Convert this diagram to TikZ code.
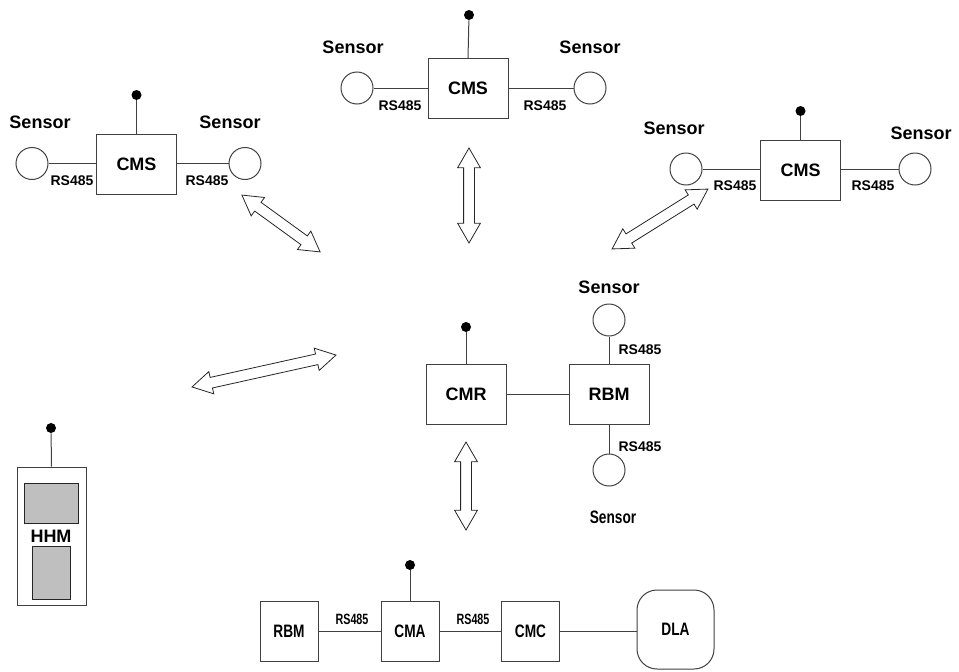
\documentclass[tikz,border=0pt]{standalone}
\usepackage{fontspec}
\setmainfont{Liberation Sans}
\usetikzlibrary{shapes.arrows}
\tikzset{
  lbl/.style={font=\fontsize{13.5}{16}\selectfont\bfseries, inner sep=0},
  rs/.style={font=\fontsize{10.5}{12}\selectfont\bfseries, inner sep=0},
  rsb/.style={font=\fontsize{11.2}{13}\selectfont\bfseries, inner sep=0},
  box/.style={draw=black!75, line width=0.75pt, fill=white, minimum width=60pt, minimum height=45pt, inner sep=0, font=\fontsize{13.5}{16}\selectfont\bfseries},
  sbox/.style={box, minimum width=43.5pt},
  sens/.style={circle, draw=black!75, line width=0.75pt, minimum size=24pt, inner sep=0},
  ant/.style={circle, fill=black, minimum size=7.5pt, inner sep=0},
  wire/.style={draw=black!75, line width=0.75pt},
  darr/.style={double arrow, draw=black!85, line width=0.6pt, minimum width=16.5pt, double arrow head extend=4.5pt, double arrow tip angle=60, inner sep=0, fill=white},
  gbox/.style={draw=black!85, line width=0.75pt, fill=black!25, inner sep=0}
}
\newcommand{\cz}[1]{\scalebox{0.76}[1]{#1}}
\newcommand{\shaft}{\rule{0pt}{7.5pt}}
\begin{document}
\begin{tikzpicture}[x=0.75pt,y=-0.75pt]
\useasboundingbox (0,0) rectangle (959,671);
% ---------- left CMS ----------
\node[box] (cms1) at (136.5,164.5) {CMS};
\node[sens] (s1a) at (32,163.5) {};
\node[sens] (s1b) at (245,163.5) {};
\node[ant] (d1) at (136.5,95) {};
\draw[wire] (s1a) -- (cms1.west |- s1a);
\draw[wire] (cms1.east |- s1b) -- (s1b);
\draw[wire] (cms1.north) -- (d1);
\node[lbl] (t1a) at (40,122) {Sensor};
\node[lbl] (t1b) at (230,122) {Sensor};
\node[rs] (r1a) at (72,181) {RS485};
\node[rs] (r1b) at (207,181) {RS485};
% ---------- top CMS ----------
\node[box] (cms2) at (468,88.5) {CMS};
\node[sens] (s2a) at (357,88) {};
\node[sens] (s2b) at (590,88) {};
\node[ant] (d2) at (469,15) {};
\draw[wire] (s2a) -- (cms2.west |- s2a);
\draw[wire] (cms2.east |- s2b) -- (s2b);
\draw[wire] (cms2.north) -- (d2);
\node[lbl] (t2a) at (353,47) {Sensor};
\node[lbl] (t2b) at (590,47) {Sensor};
\node[rs] (r2a) at (400,106) {RS485};
\node[rs] (r2b) at (545,106) {RS485};
% ---------- right CMS ----------
\node[box] (cms3) at (800.5,170) {CMS};
\node[sens] (s3a) at (686,169) {};
\node[sens] (s3b) at (915,169) {};
\node[ant] (d3) at (800.5,111) {};
\draw[wire] (s3a) -- (cms3.west |- s3a);
\draw[wire] (cms3.east |- s3b) -- (s3b);
\draw[wire] (cms3.north) -- (d3);
\node[lbl] (t3a) at (674,128) {Sensor};
\node[lbl] (t3b) at (921,133) {Sensor};
\node[rs] (r3a) at (735,186) {RS485};
\node[rs] (r3b) at (873,186) {RS485};
% ---------- centre CMR / RBM ----------
\node[box] (cmr) at (466,394.5) {CMR};
\node[box] (rbm1) at (609,394.5) {RBM};
\node[ant] (d4) at (466,327) {};
\node[sens] (s4a) at (609,320) {};
\node[sens] (s4b) at (609,470) {};
\draw[wire] (cmr) -- (rbm1);
\draw[wire] (cmr.north) -- (d4);
\draw[wire] (s4a) -- (rbm1.north);
\draw[wire] (rbm1.south) -- (s4b);
\node[lbl] (t4a) at (609,287) {Sensor};
\node[lbl] (t4b) at (613,517) {\cz{Sensor}};
\node[rs] (r4a) at (640,350) {RS485};
\node[rs] (r4b) at (640,447) {RS485};
% ---------- HHM ----------
\node[draw=black!75, line width=0.75pt, fill=white, minimum width=51.75pt, minimum height=103.5pt, inner sep=0] (hhm) at (51.5,536) {};
\node[gbox, minimum width=40.5pt, minimum height=30pt] (g1) at (51,503) {};
\node[gbox, minimum width=28.5pt, minimum height=39.75pt] (g2) at (51,572.5) {};
\node[lbl] (thhm) at (51,536) {HHM};
\node[ant] (d5) at (51,428) {};
\draw[wire] (hhm.north) -- (d5);
% ---------- bottom row ----------
\node[sbox] (rbm2) at (289,631) {\cz{RBM}};
\node[sbox] (cma) at (410,631) {\cz{CMA}};
\node[sbox] (cmc) at (530.5,631) {\cz{CMC}};
\node[box, minimum width=57.75pt, minimum height=59.25pt, rounded corners=15pt] (dla) at (675.5,629.5) {\cz{DLA}};
\node[ant, minimum width=5.5pt] (d6) at (410,565) {};
\draw[wire] (rbm2) -- (cma);
\draw[wire] (cma) -- (cmc);
\draw[wire] (cmc) -- (cmc -| dla.west);
\draw[wire] (cma.north) -- (d6);
\node[rsb] (r5a) at (352,619) {\scalebox{0.72}[1]{RS485}};
\node[rsb] (r5b) at (473,619) {\scalebox{0.72}[1]{RS485}};
% ---------- double arrows ----------
\node[darr, minimum height=72.5pt, rotate=-36] (a1) at (281,223.5) {\shaft};
\node[darr, minimum height=71.25pt, rotate=90] (a2) at (469,195.5) {\shaft};
\node[darr, minimum height=84.75pt, rotate=32] (a3) at (660,219) {\shaft};
\node[darr, minimum height=110.6pt, rotate=12.5] (a4) at (264,371) {\shaft};
\node[darr, minimum height=66pt, rotate=90] (a5) at (466,486) {\shaft};
\end{tikzpicture}
\end{document}
